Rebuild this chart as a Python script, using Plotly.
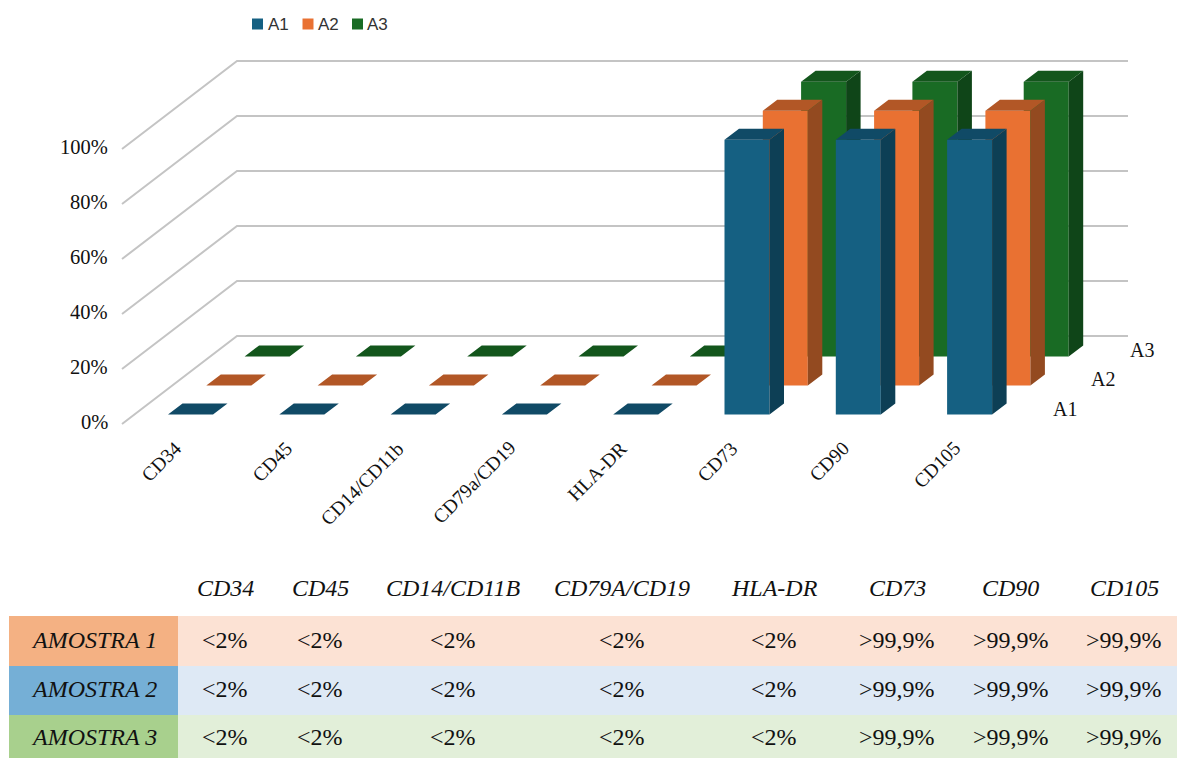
import html
import plotly.graph_objects as go

# ---- chart data ----
categories = ["CD34", "CD45", "CD14/CD11b", "CD79a/CD19", "HLA-DR", "CD73", "CD90", "CD105"]
series_names = ["A1", "A2", "A3"]
a1_values = [0, 0, 0, 0, 0, 99.9, 99.9, 99.9]
a2_values = [0, 0, 0, 0, 0, 99.9, 99.9, 99.9]
a3_values = [0, 0, 0, 0, 0, 99.9, 99.9, 99.9]
axis_ticks = [0, 20, 40, 60, 80, 100]

# ---- table data ----
table_columns = ["CD34", "CD45", "CD14/CD11B", "CD79A/CD19", "HLA-DR", "CD73", "CD90", "CD105"]
table_rows = ["AMOSTRA 1", "AMOSTRA 2", "AMOSTRA 3"]
table_cells = ["<2%", "<2%", "<2%", "<2%", "<2%", ">99,9%", ">99,9%", ">99,9%"]

# ---- colours: front, side, top ----
face_colours = [
    ("#156082", "#0D3F55", "#104A66"),
    ("#E97132", "#934A20", "#B25726"),
    ("#196B24", "#0F4518", "#13561C"),
]
row_head_fill = ["#F4B183", "#75AFD6", "#A8D08D"]
row_body_fill = ["#FCE2D4", "#DEE9F5", "#E2EFD9"]

# ---- oblique projection of the 3D chart onto the page ----
PX_PER_PCT = 2.75
CAT_STEP = 111.3
SERIES_DX, SERIES_DY = 38.3, -29.0
BAR_W = 45.0
BAR_DX, BAR_DY = 14.5, -11.0
BASE_X, BASE_Y = 168.0, 414.5
FLOOR_FRONT = (122.0, 424.0)
FLOOR_BACK = (237.0, 336.0)
WALL_RIGHT_X = 1128.0


def bar_faces(cat, series, value):
    x0 = BASE_X + cat * CAT_STEP + series * SERIES_DX
    y0 = BASE_Y + series * SERIES_DY
    x1 = x0 + BAR_W
    top = y0 - value * PX_PER_PCT
    front = [(x0, y0), (x1, y0), (x1, top), (x0, top)]
    side = [(x1, y0), (x1 + BAR_DX, y0 + BAR_DY), (x1 + BAR_DX, top + BAR_DY), (x1, top)]
    cap = [(x0, top), (x1, top), (x1 + BAR_DX, top + BAR_DY), (x0 + BAR_DX, top + BAR_DY)]
    return front, side, cap


def polygons_trace(polys, colour):
    xs, ys = [], []
    for poly in polys:
        xs += [p[0] for p in poly] + [poly[0][0], None]
        ys += [p[1] for p in poly] + [poly[0][1], None]
    return go.Scatter(x=xs, y=ys, mode="lines", fill="toself", fillcolor=colour,
                      line=dict(width=0), hoverinfo="skip", showlegend=False)


fig = go.Figure()

# Gridlines: floor-side diagonal followed by the back wall
grid_x, grid_y = [], []
for tick in axis_ticks:
    lift = tick * PX_PER_PCT
    grid_x += [FLOOR_FRONT[0], FLOOR_BACK[0], WALL_RIGHT_X, None]
    grid_y += [FLOOR_FRONT[1] - lift, FLOOR_BACK[1] - lift, FLOOR_BACK[1] - lift, None]
fig.add_trace(go.Scatter(x=grid_x, y=grid_y, mode="lines",
                         line=dict(color="#C4C4C4", width=2),
                         hoverinfo="skip", showlegend=False))

# Bars, rear series first so the nearer rows cover them
all_values = [a1_values, a2_values, a3_values]
for s in (2, 1, 0):
    faces = [bar_faces(c, s, v) for c, v in enumerate(all_values[s])]
    for face_index in range(3):
        polys = [f[face_index] for f in faces]
        fig.add_trace(polygons_trace(polys, face_colours[s][face_index]))

SERIF = "Liberation Serif"
SANS = "Liberation Sans"
annotations = []


def label(x, y, text, size, family=SERIF, xanchor="center", yanchor="middle",
          angle=0, italic=False, colour="#111111"):
    annotations.append(dict(
        x=x, y=y, xref="x", yref="y", text=html.escape(text, quote=False), showarrow=False,
        xanchor=xanchor, yanchor=yanchor, textangle=angle,
        borderpad=0, borderwidth=0,
        font=dict(family=family, size=size, color=colour,
                  style="italic" if italic else "normal"),
    ))


# Value axis
for tick in axis_ticks:
    label(107.5, FLOOR_FRONT[1] - 2 - tick * PX_PER_PCT, f"{tick}%", 20.5, xanchor="right")

# Category axis
for i, name in enumerate(categories):
    label(185.5 + i * CAT_STEP, 437.5, name, 19.5, xanchor="right", yanchor="top", angle=-45)

# Series axis
for s, name in enumerate(series_names):
    label(1053 + s * SERIES_DX, 408.5 + s * -29.5, name, 20, xanchor="left")

# Legend
legend_marker_x = [257.5, 308, 357.5]
legend_text_x = [267.5, 317.5, 367]
fig.add_trace(go.Scatter(
    x=legend_marker_x, y=[24, 24, 24], mode="markers",
    marker=dict(symbol="square", size=11, color=[c[0] for c in face_colours], line=dict(width=0)),
    hoverinfo="skip", showlegend=False))
for x, name in zip(legend_text_x, series_names):
    label(x, 24, name, 17, family=SANS, xanchor="left", colour="#333333")

# Table backgrounds
TABLE_LEFT, HEAD_RIGHT, TABLE_RIGHT = 9, 178, 1177
row_edges = [616, 666, 715, 758]
shapes = []
for r in range(3):
    y0, y1 = row_edges[r], row_edges[r + 1]
    for xa, xb, fill in ((TABLE_LEFT, HEAD_RIGHT, row_head_fill[r]),
                         (HEAD_RIGHT, TABLE_RIGHT, row_body_fill[r])):
        shapes.append(dict(type="rect", xref="x", yref="y", x0=xa, x1=xb, y0=y0, y1=y1,
                           fillcolor=fill, line=dict(width=0), layer="below"))

# Table text
column_centres = [225, 320, 453, 622, 774, 897, 1010.5, 1124]
row_centres = [640, 689, 737]
for cx, name in zip(column_centres, table_columns):
    label(cx, 588, name, 24, italic=True)
for cy, name in zip(row_centres, table_rows):
    label(93.5, cy, name, 24, italic=True)
    for cx, cell in zip(column_centres, table_cells):
        label(cx, cy, cell, 24)

fig.update_layout(
    width=1177, height=758, autosize=False,
    margin=dict(l=0, r=0, t=0, b=0),
    paper_bgcolor="white", plot_bgcolor="white",
    xaxis=dict(range=[0, 1177], visible=False, fixedrange=True),
    yaxis=dict(range=[758, 0], visible=False, fixedrange=True),
    showlegend=False, shapes=shapes, annotations=annotations,
)

fig.write_html("out.html", config={"displayModeBar": False})
